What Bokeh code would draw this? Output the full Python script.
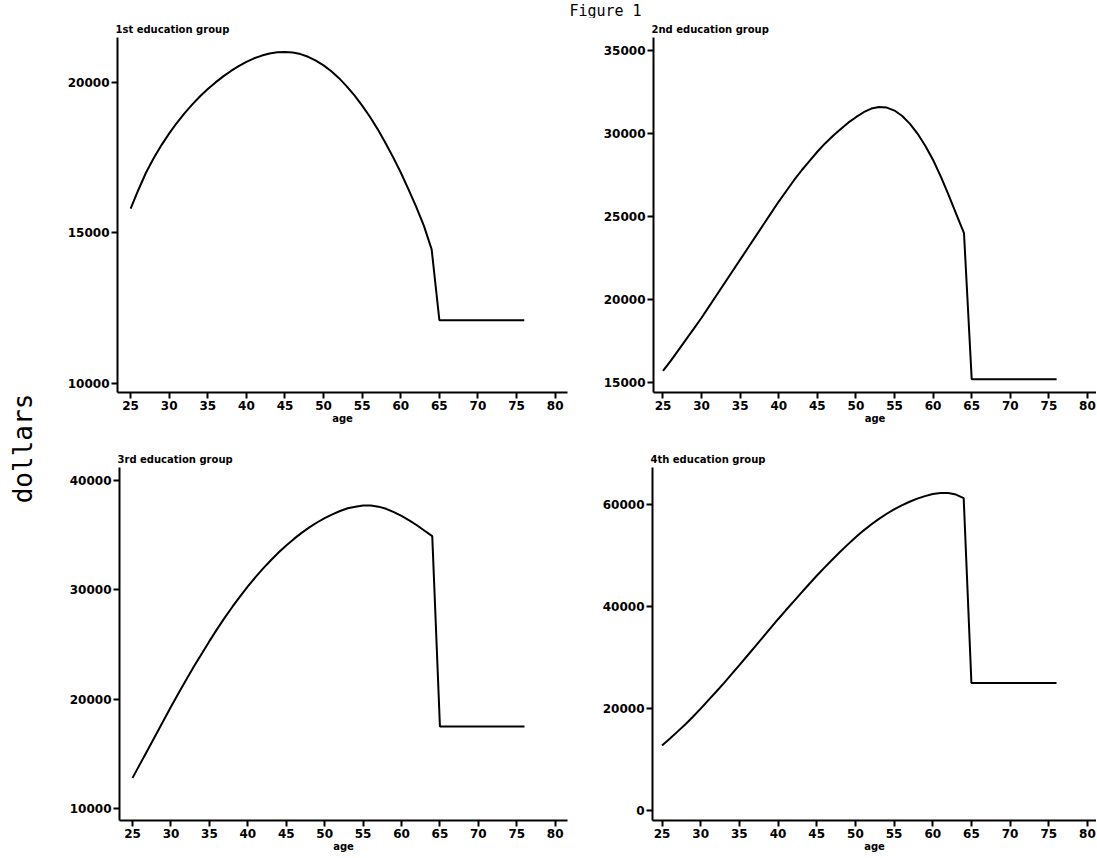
import math
from bokeh.plotting import figure
from bokeh.layouts import row, column
from bokeh.models import Label, FixedTicker, Range1d, NumeralTickFormatter
from bokeh.embed import file_html
from bokeh.resources import INLINE

# ---- data ----
ages = list(range(25, 66)) + [76]

edu1 = [15800, 16420, 17000, 17480, 17910, 18300, 18650, 18970, 19260, 19530,
        19770, 19990, 20190, 20370, 20530, 20670, 20790, 20880, 20950, 20990,
        21000, 20980, 20930, 20840, 20715, 20555, 20360, 20130, 19860, 19560,
        19220, 18850, 18440, 17990, 17510, 17000, 16440, 15860, 15230, 14450,
        12100, 12100]

edu2 = [15700, 16300, 16950, 17600, 18250, 18900, 19600, 20300, 21000, 21700,
        22400, 23100, 23800, 24500, 25200, 25900, 26550, 27200, 27800, 28350,
        28900, 29400, 29850, 30250, 30650, 30980, 31280, 31500, 31600, 31560,
        31380, 31050, 30580, 29980, 29250, 28400, 27400, 26300, 25150, 24000,
        15200, 15200]

edu3 = [12800, 14100, 15400, 16700, 18000, 19300, 20550, 21800, 23000, 24150,
        25300, 26400, 27450, 28450, 29400, 30300, 31150, 31950, 32700, 33400,
        34050, 34650, 35200, 35700, 36150, 36550, 36900, 37200, 37450, 37600,
        37700, 37700, 37600, 37400, 37100, 36750, 36350, 35900, 35400, 34900,
        17500, 17500]

edu4 = [12800, 14100, 15500, 16900, 18400, 20000, 21650, 23300, 25000, 26750,
        28500, 30300, 32100, 33900, 35700, 37500, 39250, 40950, 42650, 44350,
        46000, 47600, 49150, 50650, 52100, 53500, 54800, 56000, 57100, 58100,
        59000, 59800, 60500, 61100, 61600, 62000, 62200, 62200, 61900, 61200,
        25000, 25000]

age_ticks = [25, 30, 35, 40, 45, 50, 55, 60, 65, 70, 75, 80]
yticks1 = [10000, 15000, 20000]
yticks2 = [15000, 20000, 25000, 30000, 35000]
yticks3 = [10000, 20000, 30000, 40000]
yticks4 = [0, 20000, 40000, 60000]

titles = ["1st education group", "2nd education group",
          "3rd education group", "4th education group"]

TICK_FONT = "DejaVu Sans"
MONO = "DejaVu Sans Mono"


def panel(title, yvals, yticks, xr, yr, w, h, bl, br, bt, bb):
    p = figure(width=w, height=h, x_range=Range1d(*xr), y_range=Range1d(*yr),
               output_backend="svg", toolbar_location=None,
               min_border_left=bl, min_border_right=br,
               min_border_top=bt, min_border_bottom=bb)
    p.line(ages, yvals, line_color="black", line_width=2)
    p.title.text = title
    p.title.text_font = TICK_FONT
    p.title.text_font_size = "10px"
    p.title.text_font_style = "bold"
    p.title.text_color = "black"
    p.title.align = "left"
    p.title.standoff = 6
    p.title.offset = -2
    p.xgrid.visible = False
    p.ygrid.visible = False
    p.outline_line_color = None
    p.background_fill_color = "white"
    p.border_fill_color = "white"
    p.xaxis.ticker = FixedTicker(ticks=age_ticks)
    p.yaxis.ticker = FixedTicker(ticks=yticks)
    p.yaxis.formatter = NumeralTickFormatter(format="0")
    p.xaxis.axis_label = "age"
    for ax in (p.xaxis[0], p.yaxis[0]):
        ax.axis_line_width = 2
        ax.axis_line_color = "black"
        ax.major_tick_line_width = 2
        ax.major_tick_line_color = "black"
        ax.major_tick_out = 6
        ax.major_tick_in = 0
        ax.minor_tick_line_color = None
        ax.major_label_text_font = TICK_FONT
        ax.major_label_text_font_size = "12px"
        ax.major_label_text_font_style = "bold"
        ax.major_label_text_color = "black"
        ax.major_label_standoff = 2
    p.xaxis.axis_label_text_font = TICK_FONT
    p.xaxis.axis_label_text_font_size = "10px"
    p.xaxis.axis_label_text_font_style = "bold"
    p.xaxis.axis_label_text_color = "black"
    p.xaxis.axis_label_standoff = 0
    return p


XL = (23.3, 81.6)
XR = (23.77, 81.17)

TOP_H = 18
p1 = panel(titles[0], edu1, yticks1, XL, (9700, 21480), 543, 419, 62, 31, 35 - TOP_H, 44)
p2 = panel(titles[1], edu2, yticks2, XR, (14400, 35780), 498, 419, 55, 0, 35 - TOP_H, 45)
p3 = panel(titles[2], edu3, yticks3, XL, (8900, 41180), 543, 420, 64, 31, 30, 35)
p4 = panel(titles[3], edu4, yticks4, XR, (-1900, 67200), 498, 420, 54, 0, 18, 37)

# top strip with the figure title
top = figure(width=1096, height=TOP_H, x_range=Range1d(0, 1096), y_range=Range1d(0, TOP_H),
             output_backend="svg", toolbar_location=None, min_border=0,
             x_axis_location=None, y_axis_location=None)
top.outline_line_color = None
top.xgrid.visible = False
top.ygrid.visible = False
top.add_layout(Label(x=605, y=TOP_H - 1, text="Figure 1", text_align="center",
                     text_baseline="top", text_font=MONO,
                     text_font_size="15px", text_color="black"))

# left strip with the y label
LH = 839
left = figure(width=55, height=LH, x_range=Range1d(0, 55), y_range=Range1d(0, LH),
              output_backend="svg", toolbar_location=None, min_border=0,
              x_axis_location=None, y_axis_location=None)
left.outline_line_color = None
left.xgrid.visible = False
left.ygrid.visible = False
left.add_layout(Label(x=22, y=LH - (448 - TOP_H), text="dollars", angle=math.pi / 2,
                      text_align="center", text_baseline="middle",
                      text_font=MONO, text_font_size="26px", text_color="black"))

layout = column(top, row(left, column(row(p1, p2), row(p3, p4))))

open("out.html", "w").write(file_html(layout, INLINE))
